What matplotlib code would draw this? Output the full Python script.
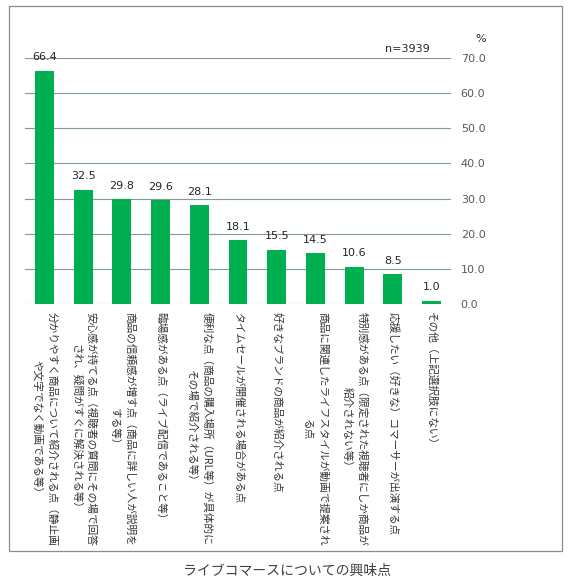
import matplotlib
matplotlib.use('Agg')
import matplotlib.pyplot as plt
from matplotlib.patches import Rectangle

# данные
categories = [
    '分かりやすく商品について紹介される点（静止画\nや文字でなく動画である等）',
    '安心感が持てる点（視聴者の質問にその場で回答\nされ、疑問がすぐに解決される等）',
    '商品の信頼感が増す点（商品に詳しい人が説明を\nする等）',
    '臨場感がある点（ライブ配信であること等）',
    '便利な点（商品の購入場所（URL等）が具体的に\nその場で紹介される等）',
    'タイムセールが開催される場合がある点',
    '好きなブランドの商品が紹介される点',
    '商品に関連したライフスタイルが動画で提案され\nる点',
    '特別感がある点（限定された視聴者にしか商品が\n紹介されない等）',
    '応援したい（好きな）コマーサーが出演する点',
    'その他（上記選択肢にない）',
]
values = [66.4, 32.5, 29.8, 29.6, 28.1, 18.1, 15.5, 14.5, 10.6, 8.5, 1.0]
yticks = [0, 10, 20, 30, 40, 50, 60, 70]
title = 'ライブコマースについての興味点'
n_label = 'n=3939'

jp_font = ['Noto Sans CJK JP', 'DejaVu Sans']

fig = plt.figure(figsize=(5.72, 5.78), dpi=100)
ax = fig.add_axes([0.0437, 0.474, 0.7448, 0.4257])

x = list(range(len(values)))
ax.bar(x, values, width=0.49, color='#00B050', zorder=3)

# сетка
for t in yticks:
    ax.axhline(t, color='#a6a6a6' if t == 0 else '#7f99a3', lw=0.8, zorder=1)

ax.set_xlim(-0.5, len(values) - 0.5)
ax.set_ylim(0, 70)
ax.set_yticks(yticks)
ax.set_yticklabels(['%.1f' % t for t in yticks])
ax.yaxis.tick_right()
ax.tick_params(axis='y', length=0, pad=7, labelsize=8, labelcolor='#595959')
ax.set_xticks([])
for s in ax.spines.values():
    s.set_visible(False)

# подписи значений
for i, v in enumerate(values):
    ax.annotate('%.1f' % v, xy=(i, v), xytext=(0, 6), textcoords='offset points',
                ha='center', va='bottom', fontsize=8, color='#262626')

# подписи категорий (вертикально)
for i, c in enumerate(categories):
    ax.annotate(c, xy=(i, 0), xycoords=('data', 'axes fraction'),
                xytext=(0, -6), textcoords='offset points',
                rotation=-90, ha='center', va='top', multialignment='center',
                linespacing=1.55, fontsize=7.7, color='#333333', family=jp_font)

fig.text(0.7115, 0.9152, n_label, ha='center', va='center', fontsize=8, color='#262626')
fig.text(0.841, 0.9325, '%', ha='center', va='center', fontsize=8, color='#262626')
fig.text(0.5026, 0.0121, title, ha='center', va='center', fontsize=10,
         color='#404040', family=jp_font)

fig.add_artist(Rectangle((0.0157, 0.0467), 0.967, 0.943, transform=fig.transFigure,
                         fill=False, edgecolor='#8c8c8c', lw=0.9))

fig.savefig('out.png', dpi=100)
